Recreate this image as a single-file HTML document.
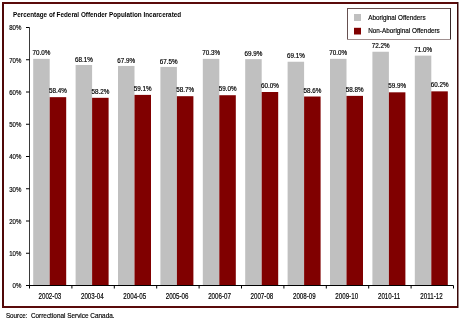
<!DOCTYPE html>
<html><head><meta charset="utf-8"><style>
html,body{margin:0;padding:0;background:#fff;}
body{width:460px;height:320px;overflow:hidden;position:relative;}
svg{position:absolute;left:0;top:0;will-change:transform;}
text{font-family:"Liberation Sans",sans-serif;stroke:#000;stroke-width:0.18px;}
.nost{stroke:none;}
</style></head><body>
<svg width="460" height="320" viewBox="0 0 460 320">
<rect x="2" y="2" width="2" height="306" fill="#500808"/><rect x="2" y="2" width="456" height="2" fill="#5a0a0a"/><rect x="2" y="306" width="456" height="2" fill="#5a0a0a"/><rect x="457" y="2" width="1.5" height="306" fill="#3a0808"/>
<text class="nost" transform="translate(13.00,17.00) scale(0.793,1)" style="font-size:8px;font-weight:bold;text-anchor:start;fill:#000">Percentage of Federal Offender Population Incarcerated</text>
<rect x="347" y="8" width="104" height="1" fill="#665050"/><rect x="347" y="8" width="1" height="32" fill="#665050"/><rect x="450" y="8" width="1" height="32" fill="#3a2828"/><rect x="347" y="39" width="104" height="1" fill="#a09090"/>
<rect x="354" y="14" width="7" height="7" fill="#c0c0c0"/>
<rect x="354" y="27.8" width="7" height="6.7" fill="#800000"/>
<text transform="translate(368.20,19.80) scale(0.8,1)" style="font-size:7.9px;font-weight:normal;text-anchor:start;fill:#000">Aboriginal Offenders</text>
<text transform="translate(368.20,32.80) scale(0.806,1)" style="font-size:7.9px;font-weight:normal;text-anchor:start;fill:#000">Non-Aboriginal Offenders</text>
<rect x="33.20" y="58.85" width="16.5" height="226.65" fill="#c0c0c0"/>
<rect x="49.70" y="97.16" width="16.5" height="188.34" fill="#800000"/>
<text transform="translate(41.45,55.45) scale(1.0,1)" style="font-size:6.3px;font-weight:normal;text-anchor:middle;fill:#000">70.0%</text>
<text transform="translate(57.95,93.16) scale(1.0,1)" style="font-size:6.3px;font-weight:normal;text-anchor:middle;fill:#000">58.4%</text>
<text transform="translate(49.90,299.20) scale(0.73,1)" style="font-size:8.5px;font-weight:normal;text-anchor:middle;fill:#000">2002-03</text>
<rect x="75.60" y="64.98" width="16.5" height="220.52" fill="#c0c0c0"/>
<rect x="92.10" y="97.81" width="16.5" height="187.69" fill="#800000"/>
<text transform="translate(83.85,61.58) scale(1.0,1)" style="font-size:6.3px;font-weight:normal;text-anchor:middle;fill:#000">68.1%</text>
<text transform="translate(100.35,93.81) scale(1.0,1)" style="font-size:6.3px;font-weight:normal;text-anchor:middle;fill:#000">58.2%</text>
<text transform="translate(92.30,299.20) scale(0.73,1)" style="font-size:8.5px;font-weight:normal;text-anchor:middle;fill:#000">2003-04</text>
<rect x="118.00" y="65.95" width="16.5" height="219.55" fill="#c0c0c0"/>
<rect x="134.50" y="94.90" width="16.5" height="190.60" fill="#800000"/>
<text transform="translate(126.25,62.55) scale(1.0,1)" style="font-size:6.3px;font-weight:normal;text-anchor:middle;fill:#000">67.9%</text>
<text transform="translate(142.75,90.90) scale(1.0,1)" style="font-size:6.3px;font-weight:normal;text-anchor:middle;fill:#000">59.1%</text>
<text transform="translate(134.70,299.20) scale(0.73,1)" style="font-size:8.5px;font-weight:normal;text-anchor:middle;fill:#000">2004-05</text>
<rect x="160.40" y="66.91" width="16.5" height="218.59" fill="#c0c0c0"/>
<rect x="176.90" y="96.19" width="16.5" height="189.31" fill="#800000"/>
<text transform="translate(168.65,63.51) scale(1.0,1)" style="font-size:6.3px;font-weight:normal;text-anchor:middle;fill:#000">67.5%</text>
<text transform="translate(185.15,92.19) scale(1.0,1)" style="font-size:6.3px;font-weight:normal;text-anchor:middle;fill:#000">58.7%</text>
<text transform="translate(177.10,299.20) scale(0.73,1)" style="font-size:8.5px;font-weight:normal;text-anchor:middle;fill:#000">2005-06</text>
<rect x="202.80" y="58.85" width="16.5" height="226.65" fill="#c0c0c0"/>
<rect x="219.30" y="95.22" width="16.5" height="190.28" fill="#800000"/>
<text transform="translate(211.05,55.45) scale(1.0,1)" style="font-size:6.3px;font-weight:normal;text-anchor:middle;fill:#000">70.3%</text>
<text transform="translate(227.55,91.22) scale(1.0,1)" style="font-size:6.3px;font-weight:normal;text-anchor:middle;fill:#000">59.0%</text>
<text transform="translate(219.50,299.20) scale(0.73,1)" style="font-size:8.5px;font-weight:normal;text-anchor:middle;fill:#000">2006-07</text>
<rect x="245.20" y="59.17" width="16.5" height="226.33" fill="#c0c0c0"/>
<rect x="261.70" y="92.00" width="16.5" height="193.50" fill="#800000"/>
<text transform="translate(253.45,55.77) scale(1.0,1)" style="font-size:6.3px;font-weight:normal;text-anchor:middle;fill:#000">69.9%</text>
<text transform="translate(269.95,88.00) scale(1.0,1)" style="font-size:6.3px;font-weight:normal;text-anchor:middle;fill:#000">60.0%</text>
<text transform="translate(261.90,299.20) scale(0.73,1)" style="font-size:8.5px;font-weight:normal;text-anchor:middle;fill:#000">2007-08</text>
<rect x="287.60" y="61.75" width="16.5" height="223.75" fill="#c0c0c0"/>
<rect x="304.10" y="96.51" width="16.5" height="188.99" fill="#800000"/>
<text transform="translate(295.85,58.35) scale(1.0,1)" style="font-size:6.3px;font-weight:normal;text-anchor:middle;fill:#000">69.1%</text>
<text transform="translate(312.35,92.51) scale(1.0,1)" style="font-size:6.3px;font-weight:normal;text-anchor:middle;fill:#000">58.6%</text>
<text transform="translate(304.30,299.20) scale(0.73,1)" style="font-size:8.5px;font-weight:normal;text-anchor:middle;fill:#000">2008-09</text>
<rect x="330.00" y="58.85" width="16.5" height="226.65" fill="#c0c0c0"/>
<rect x="346.50" y="95.87" width="16.5" height="189.63" fill="#800000"/>
<text transform="translate(338.25,55.45) scale(1.0,1)" style="font-size:6.3px;font-weight:normal;text-anchor:middle;fill:#000">70.0%</text>
<text transform="translate(354.75,91.87) scale(1.0,1)" style="font-size:6.3px;font-weight:normal;text-anchor:middle;fill:#000">58.8%</text>
<text transform="translate(346.70,299.20) scale(0.73,1)" style="font-size:8.5px;font-weight:normal;text-anchor:middle;fill:#000">2009-10</text>
<rect x="372.40" y="51.75" width="16.5" height="233.75" fill="#c0c0c0"/>
<rect x="388.90" y="92.32" width="16.5" height="193.18" fill="#800000"/>
<text transform="translate(380.65,48.35) scale(1.0,1)" style="font-size:6.3px;font-weight:normal;text-anchor:middle;fill:#000">72.2%</text>
<text transform="translate(397.15,88.32) scale(1.0,1)" style="font-size:6.3px;font-weight:normal;text-anchor:middle;fill:#000">59.9%</text>
<text transform="translate(389.10,299.20) scale(0.73,1)" style="font-size:8.5px;font-weight:normal;text-anchor:middle;fill:#000">2010-11</text>
<rect x="414.80" y="55.63" width="16.5" height="229.88" fill="#c0c0c0"/>
<rect x="431.30" y="91.35" width="16.5" height="194.15" fill="#800000"/>
<text transform="translate(423.05,52.23) scale(1.0,1)" style="font-size:6.3px;font-weight:normal;text-anchor:middle;fill:#000">71.0%</text>
<text transform="translate(439.55,87.35) scale(1.0,1)" style="font-size:6.3px;font-weight:normal;text-anchor:middle;fill:#000">60.2%</text>
<text transform="translate(431.50,299.20) scale(0.73,1)" style="font-size:8.5px;font-weight:normal;text-anchor:middle;fill:#000">2011-12</text>
<line x1="29.5" y1="27.5" x2="29.5" y2="288" stroke="#3a3a3a" stroke-width="1"/>
<line x1="26" y1="285.5" x2="453.5" y2="285.5" stroke="#000" stroke-width="1"/>
<line x1="26" y1="285.50" x2="29.5" y2="285.50" stroke="#000" stroke-width="1"/>
<text transform="translate(21.30,288.40) scale(0.76,1)" style="font-size:8px;font-weight:normal;text-anchor:end;fill:#000">0%</text>
<line x1="26" y1="253.25" x2="29.5" y2="253.25" stroke="#000" stroke-width="1"/>
<text transform="translate(21.30,256.15) scale(0.76,1)" style="font-size:8px;font-weight:normal;text-anchor:end;fill:#000">10%</text>
<line x1="26" y1="221.00" x2="29.5" y2="221.00" stroke="#000" stroke-width="1"/>
<text transform="translate(21.30,223.90) scale(0.76,1)" style="font-size:8px;font-weight:normal;text-anchor:end;fill:#000">20%</text>
<line x1="26" y1="188.75" x2="29.5" y2="188.75" stroke="#000" stroke-width="1"/>
<text transform="translate(21.30,191.65) scale(0.76,1)" style="font-size:8px;font-weight:normal;text-anchor:end;fill:#000">30%</text>
<line x1="26" y1="156.50" x2="29.5" y2="156.50" stroke="#000" stroke-width="1"/>
<text transform="translate(21.30,159.40) scale(0.76,1)" style="font-size:8px;font-weight:normal;text-anchor:end;fill:#000">40%</text>
<line x1="26" y1="124.25" x2="29.5" y2="124.25" stroke="#000" stroke-width="1"/>
<text transform="translate(21.30,127.15) scale(0.76,1)" style="font-size:8px;font-weight:normal;text-anchor:end;fill:#000">50%</text>
<line x1="26" y1="92.00" x2="29.5" y2="92.00" stroke="#000" stroke-width="1"/>
<text transform="translate(21.30,94.90) scale(0.76,1)" style="font-size:8px;font-weight:normal;text-anchor:end;fill:#000">60%</text>
<line x1="26" y1="59.75" x2="29.5" y2="59.75" stroke="#000" stroke-width="1"/>
<text transform="translate(21.30,62.65) scale(0.76,1)" style="font-size:8px;font-weight:normal;text-anchor:end;fill:#000">70%</text>
<line x1="26" y1="27.50" x2="29.5" y2="27.50" stroke="#000" stroke-width="1"/>
<text transform="translate(21.30,30.40) scale(0.76,1)" style="font-size:8px;font-weight:normal;text-anchor:end;fill:#000">80%</text>
<line x1="29.50" y1="285.5" x2="29.50" y2="288.5" stroke="#000" stroke-width="1"/>
<line x1="71.90" y1="285.5" x2="71.90" y2="288.5" stroke="#000" stroke-width="1"/>
<line x1="114.30" y1="285.5" x2="114.30" y2="288.5" stroke="#000" stroke-width="1"/>
<line x1="156.70" y1="285.5" x2="156.70" y2="288.5" stroke="#000" stroke-width="1"/>
<line x1="199.10" y1="285.5" x2="199.10" y2="288.5" stroke="#000" stroke-width="1"/>
<line x1="241.50" y1="285.5" x2="241.50" y2="288.5" stroke="#000" stroke-width="1"/>
<line x1="283.90" y1="285.5" x2="283.90" y2="288.5" stroke="#000" stroke-width="1"/>
<line x1="326.30" y1="285.5" x2="326.30" y2="288.5" stroke="#000" stroke-width="1"/>
<line x1="368.70" y1="285.5" x2="368.70" y2="288.5" stroke="#000" stroke-width="1"/>
<line x1="411.10" y1="285.5" x2="411.10" y2="288.5" stroke="#000" stroke-width="1"/>
<line x1="453.50" y1="285.5" x2="453.50" y2="288.5" stroke="#000" stroke-width="1"/>
<text transform="translate(5.90,317.60) scale(0.83,1)" style="font-size:7.6px;font-weight:normal;text-anchor:start;fill:#000">Source:</text>
<text transform="translate(30.90,317.60) scale(0.845,1)" style="font-size:7.6px;font-weight:normal;text-anchor:start;fill:#000">Correctional Service Canada.</text>
</svg>
</body></html>
